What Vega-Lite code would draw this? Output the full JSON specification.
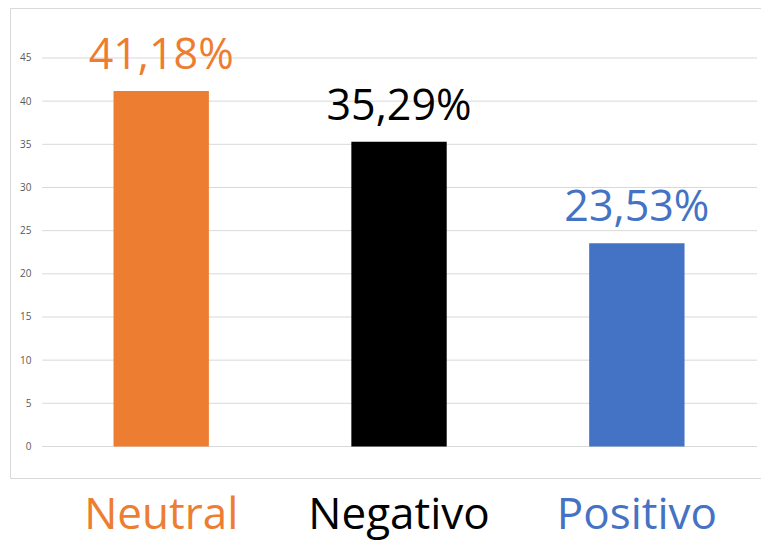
{
  "$schema": "https://vega.github.io/schema/vega-lite/v6.json",
  "autosize": {"type": "none"},
  "width": 752,
  "height": 470,
  "padding": {"left": 10, "top": 8, "right": 0, "bottom": 63},
  "background": "white",
  "config": {"view": {"stroke": "#d9d9d9", "strokeWidth": 1}, "font": "Open Sans"},
  "datasets": {
    "bars": [
      {"cat": "Neutral", "value": 41.18, "label": "41,18%"},
      {"cat": "Negativo", "value": 35.29, "label": "35,29%"},
      {"cat": "Positivo", "value": 23.53, "label": "23,53%"}
    ],
    "grid": [
      {"value": 0}, {"value": 5}, {"value": 10}, {"value": 15}, {"value": 20},
      {"value": 25}, {"value": 30}, {"value": 35}, {"value": 40}, {"value": 45}
    ]
  },
  "encoding": {
    "x": {
      "field": "cat", "type": "nominal",
      "scale": {"domain": ["Neutral", "Negativo", "Positivo"], "paddingInner": 0.599, "paddingOuter": 0.3805, "align": 0.572},
      "axis": {
        "title": null, "domain": false, "ticks": false, "tickSize": 0, "labelAngle": 0, "labelLimit": 0,
        "labelFont": "Open Sans", "labelFontSize": 44, "labelPadding": 50, "labelBaseline": "alphabetic",
        "labelColor": {"condition": [{"test": "datum.value === 'Neutral'", "value": "#ED7D31"}, {"test": "datum.value === 'Negativo'", "value": "#000000"}], "value": "#4472C4"}
      }
    },
    "y": {
      "field": "value", "type": "quantitative",
      "scale": {"domain": [-3.65, 50.79], "nice": false, "zero": false},
      "axis": {
        "title": null, "domain": false, "ticks": false, "tickSize": 0, "grid": false,
        "values": [0, 5, 10, 15, 20, 25, 30, 35, 40, 45],
        "labelFont": "Open Sans", "labelFontSize": 10, "labelColor": "#595959", "labelPadding": -21
      }
    }
  },
  "layer": [
    {
      "data": {"name": "grid"},
      "mark": {"type": "rule", "color": "#d9d9d9", "strokeWidth": 1},
      "encoding": {
        "x": {"datum": "Neutral", "type": "nominal", "bandPosition": -0.748},
        "x2": {"datum": "Positivo", "bandPosition": 1.76}
      }
    },
    {
      "data": {"name": "bars"},
      "mark": {"type": "bar"},
      "encoding": {
        "color": {"field": "cat", "type": "nominal", "legend": null,
          "scale": {"domain": ["Neutral", "Negativo", "Positivo"], "range": ["#ED7D31", "#000000", "#4472C4"]}}
      }
    },
    {
      "data": {"name": "bars"},
      "mark": {"type": "text", "baseline": "alphabetic", "dy": -22, "fontSize": 43, "font": "Open Sans"},
      "encoding": {
        "text": {"field": "label"},
        "color": {"field": "cat", "type": "nominal", "legend": null,
          "scale": {"domain": ["Neutral", "Negativo", "Positivo"], "range": ["#ED7D31", "#000000", "#4472C4"]}}
      }
    }
  ]
}
